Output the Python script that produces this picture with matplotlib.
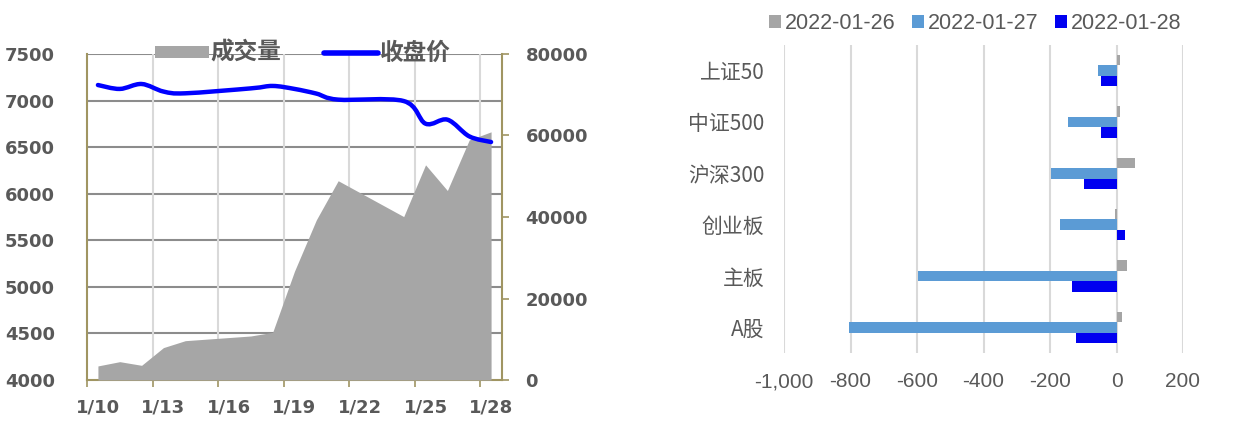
import numpy as np
import matplotlib.pyplot as plt
from matplotlib.path import Path
from matplotlib.patches import PathPatch, Patch
from matplotlib.lines import Line2D

plt.rcParams['font.family'] = ['DejaVu Sans', 'Noto Sans CJK SC']

# ---- left chart data: trading days of January 2022 ----
days = [10, 11, 12, 13, 14, 17, 18, 19, 20, 21, 24, 25, 26, 27, 28]
volume = [3450, 4500, 3600, 7950, 9650, 10800, 11700, 26700, 39300, 48900,
          40100, 52800, 46500, 58900, 60900]
close = [7167, 7125, 7178, 7097, 7078, 7131, 7157, 7125, 7075, 7010,
         6995, 6752, 6795, 6616, 6555]
date_ticks = [10, 13, 16, 19, 22, 25, 28]

# ---- right chart data ----
categories = ['上证50', '中证500', '沪深300', '创业板', '主板', 'A股']
series_names = ['2022-01-26', '2022-01-27', '2022-01-28']
s_0126 = [12, 12, 55, -5, 31, 17]
s_0127 = [-56, -146, -196, -169, -598, -806]
s_0128 = [-46, -48, -99, 26, -133, -121]

TXT = '#595959'
OLIVE = '#a09562'

fig = plt.figure(figsize=(12.46, 4.21), dpi=100)

# ================= left: volume area + smoothed close =================
pos = [87 / 1246, 1 - 380 / 421, 415 / 1246, 326 / 421]
ax = fig.add_axes(pos)
ax_vol = ax.twinx()
ax_line = fig.add_axes(pos, sharex=ax, sharey=ax)
ax_line.axis('off')

x = np.array(days) + 0.5
ax.set_xlim(10, 29)
ax.set_ylim(4000, 7500)
ax.set_yticks(np.arange(4000, 7501, 500))
ax.set_xticks(date_ticks)
ax.set_xticklabels([])
ax.set_xticks(np.array(date_ticks) + 0.5, minor=True)
ax.set_xticklabels(['1/%d' % d for d in date_ticks], minor=True)
ax.tick_params(axis='x', which='major', length=5, width=1.2, color=OLIVE)
ax.tick_params(axis='x', which='minor', length=0, pad=13)
for lab in ax.get_xticklabels(minor=True):
    lab.set_fontsize(13)
    lab.set_fontweight('bold')
    lab.set_color(TXT)
ax.tick_params(axis='y', length=0, pad=23, labelsize=13, labelcolor=TXT)
for lab in ax.get_yticklabels():
    lab.set_fontweight('bold')

# gridlines drawn manually so they sit under the area
for yv in np.arange(4500, 7501, 500):
    ax.axhline(yv, color='#8c8c8c', lw=1.5, zorder=0)
for d in date_ticks[1:]:
    ax.axvline(d, color='#d9d9d9', lw=1.5, zorder=0)

for side in ['top', 'right']:
    ax.spines[side].set_visible(False)
ax.spines['left'].set_color(OLIVE)
ax.spines['bottom'].set_color(OLIVE)
ax.spines['left'].set_linewidth(1.5)
ax.spines['bottom'].set_linewidth(1.5)

ax_vol.fill_between(x, 0, volume, color='#a6a6a6', lw=0)
ax_vol.set_ylim(0, 80000)
ax_vol.set_yticks(np.arange(0, 80001, 20000))
ax_vol.tick_params(axis='y', length=5, width=1.2, color=OLIVE, pad=12,
                   labelsize=13, labelcolor=TXT)
for lab in ax_vol.get_yticklabels():
    lab.set_fontweight('bold')
for side in ['top', 'left', 'bottom']:
    ax_vol.spines[side].set_visible(False)
ax_vol.spines['right'].set_color(OLIVE)
ax_vol.spines['right'].set_linewidth(1.5)

# smoothed close line (Catmull-Rom style bezier through the data points)
pts = np.column_stack([x, close]).astype(float)
ext = np.vstack([pts[0], pts, pts[-1]])
verts = [tuple(pts[0])]
codes = [Path.MOVETO]
for i in range(1, len(ext) - 2):
    p0, p1, p2, p3 = ext[i - 1], ext[i], ext[i + 1], ext[i + 2]
    c1 = p1 + (p2 - p0) / 6
    c2 = p2 - (p3 - p1) / 6
    verts += [tuple(c1), tuple(c2), tuple(p2)]
    codes += [Path.CURVE4] * 3
ax_line.add_patch(PathPatch(Path(verts, codes), fill=False, edgecolor='#0000ff',
                            lw=3.2, capstyle='round', joinstyle='round'))

leg_handles = [Patch(facecolor='#a6a6a6', edgecolor='none'),
               Line2D([], [], color='#0000ff', lw=4, solid_capstyle='round')]
leg = ax_line.legend(leg_handles, ['成交量', '收盘价'], ncol=2, loc='center',
                     bbox_to_anchor=(0.52, 1.003), frameon=False,
                     handlelength=2.3, handleheight=0.4, handletextpad=0.05,
                     columnspacing=1.8,
                     prop={'family': 'Noto Sans CJK SC', 'weight': 'bold', 'size': 17})
for t in leg.get_texts():
    t.set_color(TXT)

# ================= right: horizontal grouped bars =================
bx = fig.add_axes([784 / 1246, 1 - 353 / 421, 399 / 1246, 308 / 421])
yy = np.arange(len(categories))
h = 0.205
bx.barh(yy - h, s_0126, height=h, color='#a5a5a5', label=series_names[0])
bx.barh(yy, s_0127, height=h, color='#5b9bd5', label=series_names[1])
bx.barh(yy + h, s_0128, height=h, color='#0000f0', label=series_names[2])
bx.set_ylim(len(categories) - 0.5, -0.5)
bx.set_xlim(-1000, 200)
bx.set_xticks(np.arange(-1000, 201, 200))
bx.set_xticklabels(['{:,}'.format(v) for v in range(-1000, 201, 200)])
bx.set_yticks(yy)
bx.set_yticklabels(categories, family=['Noto Sans CJK SC', 'DejaVu Sans'],
                   fontsize=15, color=TXT)
bx.tick_params(axis='y', length=0, pad=14)
bx.tick_params(axis='x', length=0, pad=14, labelsize=15, labelcolor=TXT)
for lab in bx.get_xticklabels():
    lab.set_family('Liberation Sans')
bx.grid(axis='x', color='#d9d9d9', lw=1.5)
bx.set_axisbelow(True)
for s in bx.spines.values():
    s.set_visible(False)

leg2 = bx.legend(ncol=3, loc='center', bbox_to_anchor=(0.479, 1.07), frameon=False,
                 handlelength=0.55, handleheight=0.55, handletextpad=0.2,
                 columnspacing=0.75, prop={'family': 'Liberation Sans', 'size': 15.5})
for t in leg2.get_texts():
    t.set_color(TXT)

fig.savefig('out.png', dpi=100)
